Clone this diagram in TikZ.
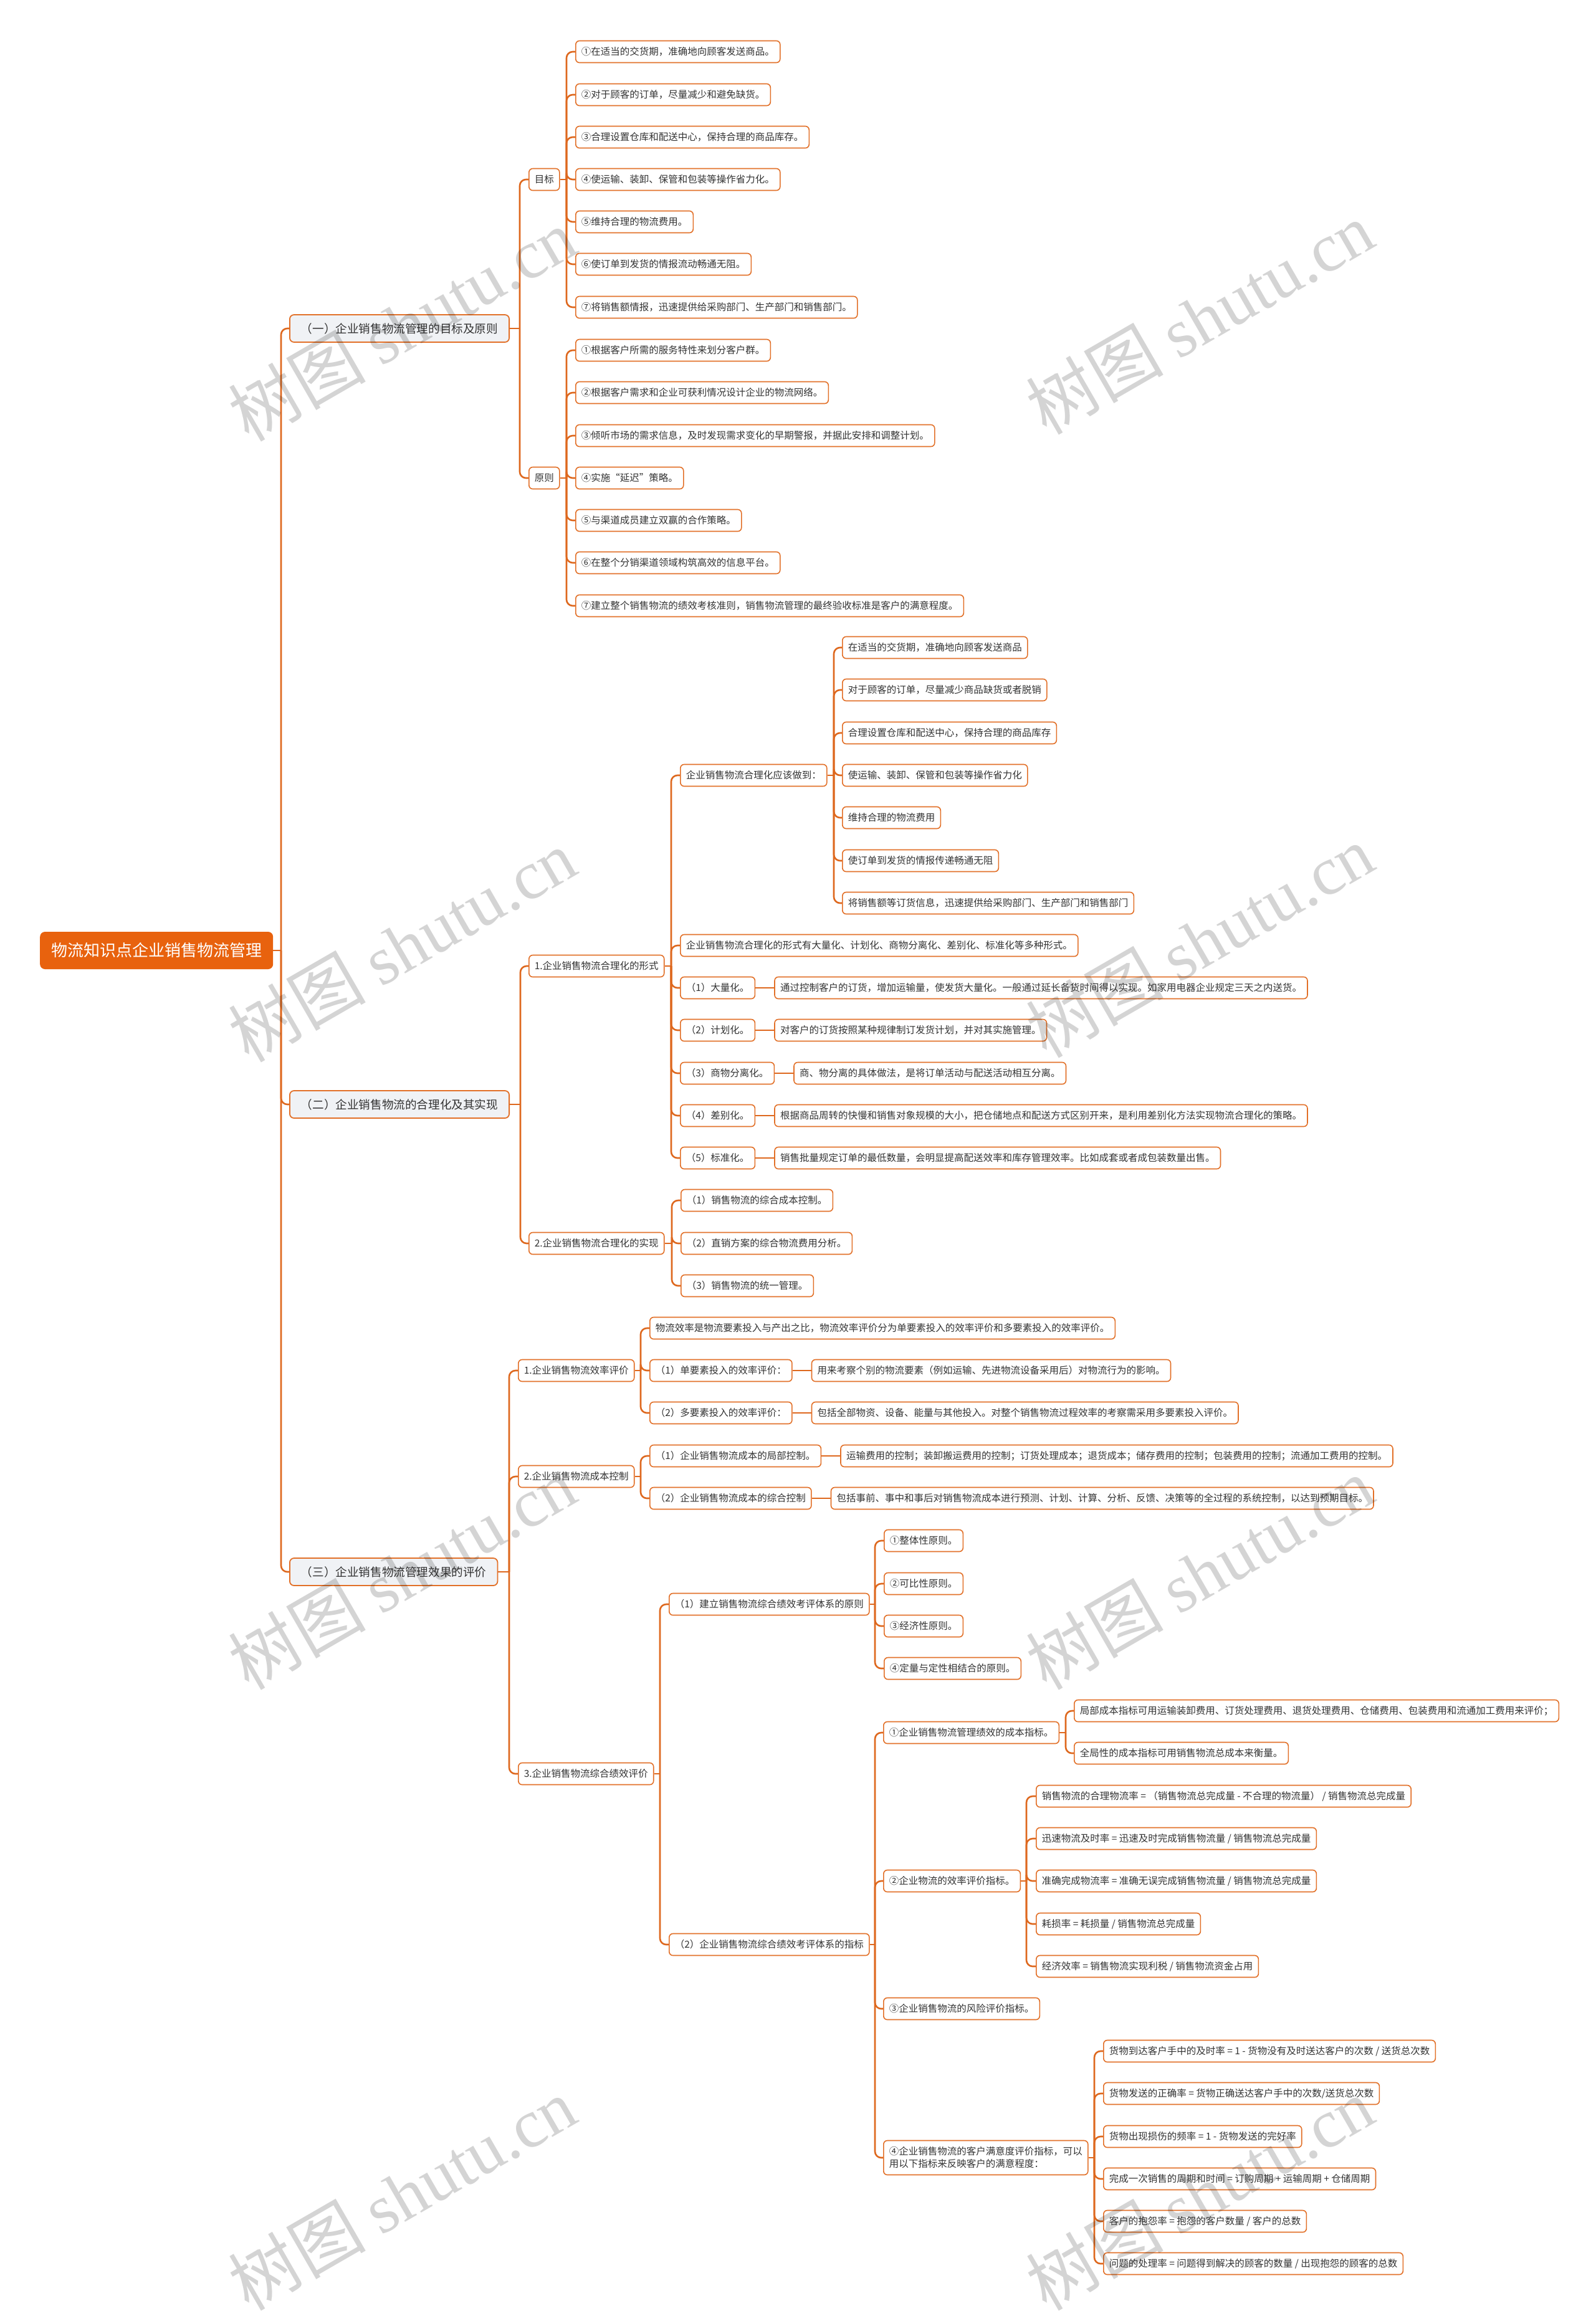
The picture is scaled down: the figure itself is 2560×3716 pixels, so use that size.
\documentclass[tikz,border=0pt]{standalone}
\usepackage{fontspec}
\setmainfont{Noto Sans CJK SC}
\newfontfamily\wmlat{Liberation Serif}
\usetikzlibrary{calc}
\definecolor{lc}{RGB}{222,104,30}
\definecolor{bc}{RGB}{226,112,40}
\definecolor{rootc}{RGB}{232,98,14}
\definecolor{lonefill}{RGB}{240,242,245}
\definecolor{tx}{RGB}{51,51,51}
\newcommand\FSa{\fontsize{15.5pt}{20pt}\selectfont}
\newcommand\FSb{\fontsize{18.6pt}{22pt}\selectfont}
\newcommand\FSc{\fontsize{26pt}{30pt}\selectfont}
\newcommand\WMf{\fontsize{110pt}{120pt}\selectfont}
\tikzset{
  leaf/.style={draw=bc, line width=1.6pt, fill=white, rounded corners=6pt, inner xsep=9pt, inner ysep=0pt, minimum height=35pt, font=\FSa, text=tx, anchor=west},
  levone/.style={draw=bc, line width=1.8pt, fill=lonefill, rounded corners=7pt, inner xsep=18pt, inner ysep=0pt, minimum height=44pt, font=\FSb, text=tx, anchor=west},
  rootn/.style={fill=rootc, rounded corners=8pt, inner xsep=18pt, inner ysep=0pt, minimum height=60pt, font=\FSc, text=white, anchor=west},
  conn/.style={draw=lc, line width=2.6pt},
  wmark/.style={rotate=30, text=black, text opacity=0.17, font=\WMf}
}
\newcommand\branch[3]{%
  \coordinate (bx) at (#2,0);
  \draw[conn] (#1.east) -- (#1.east -| bx);
  \foreach \c in {#3}{\draw[conn,rounded corners=10pt] (#1.east -| bx) |- (\c.west);}
}
\newcommand\pairc[2]{\draw[conn] (#1.east) -- (#2.west);}
\begin{document}
\begin{tikzpicture}[x=1pt,y=-1pt]
\useasboundingbox (0,0) rectangle (2560,3716);
\fill[white] (0,0) rectangle (2560,3716);

% root and level one
\node[rootn] (R) at (64,1525) {物流知识点企业销售物流管理};
\node[levone] (A) at (464,527) {（一）企业销售物流管理的目标及原则};
\node[levone] (B) at (464,1772) {（二）企业销售物流的合理化及其实现};
\node[levone] (C) at (464,2522) {（三）企业销售物流管理效果的评价};

% section A
\node[leaf] (A1) at (848,288) {目标};
\node[leaf] (A2) at (848,767) {原则};
\node[leaf] (a1) at (923,83) {①在适当的交货期，准确地向顾客发送商品。};
\node[leaf] (a2) at (923,152) {②对于顾客的订单，尽量减少和避免缺货。};
\node[leaf] (a3) at (923,220) {③合理设置仓库和配送中心，保持合理的商品库存。};
\node[leaf] (a4) at (923,288) {④使运输、装卸、保管和包装等操作省力化。};
\node[leaf] (a5) at (923,356) {⑤维持合理的物流费用。};
\node[leaf] (a6) at (923,424) {⑥使订单到发货的情报流动畅通无阻。};
\node[leaf] (a7) at (923,493) {⑦将销售额情报，迅速提供给采购部门、生产部门和销售部门。};
\node[leaf] (b1) at (923,562) {①根据客户所需的服务特性来划分客户群。};
\node[leaf] (b2) at (923,630) {②根据客户需求和企业可获利情况设计企业的物流网络。};
\node[leaf] (b3) at (923,699) {③倾听市场的需求信息，及时发现需求变化的早期警报，并据此安排和调整计划。};
\node[leaf] (b4) at (923,767) {④实施“延迟”策略。};
\node[leaf] (b5) at (923,835) {⑤与渠道成员建立双赢的合作策略。};
\node[leaf] (b6) at (923,903) {⑥在整个分销渠道领域构筑高效的信息平台。};
\node[leaf] (b7) at (923,972) {⑦建立整个销售物流的绩效考核准则，销售物流管理的最终验收标准是客户的满意程度。};

% section B
\node[leaf] (B1) at (848,1550) {1.企业销售物流合理化的形式};
\node[leaf] (B2) at (848,1995) {2.企业销售物流合理化的实现};
\node[leaf] (B11) at (1091,1244) {企业销售物流合理化应该做到：};
\node[leaf] (c1) at (1351,1039) {在适当的交货期，准确地向顾客发送商品};
\node[leaf] (c2) at (1351,1107) {对于顾客的订单，尽量减少商品缺货或者脱销};
\node[leaf] (c3) at (1351,1176) {合理设置仓库和配送中心，保持合理的商品库存};
\node[leaf] (c4) at (1351,1244) {使运输、装卸、保管和包装等操作省力化};
\node[leaf] (c5) at (1351,1312) {维持合理的物流费用};
\node[leaf] (c6) at (1351,1381) {使订单到发货的情报传递畅通无阻};
\node[leaf] (c7) at (1351,1449) {将销售额等订货信息，迅速提供给采购部门、生产部门和销售部门};
\node[leaf] (B12) at (1091,1517) {企业销售物流合理化的形式有大量化、计划化、商物分离化、差别化、标准化等多种形式。};
\node[leaf] (B13) at (1091,1585) {（1）大量化。};
\node[leaf] (B14) at (1091,1653) {（2）计划化。};
\node[leaf] (B15) at (1091,1722) {（3）商物分离化。};
\node[leaf] (B16) at (1091,1790) {（4）差别化。};
\node[leaf] (B17) at (1091,1858) {（5）标准化。};
\node[leaf] (B13c) at ($(B13.east)+(30,0)$) {通过控制客户的订货，增加运输量，使发货大量化。一般通过延长备货时间得以实现。如家用电器企业规定三天之内送货。};
\node[leaf] (B14c) at ($(B14.east)+(30,0)$) {对客户的订货按照某种规律制订发货计划，并对其实施管理。};
\node[leaf] (B15c) at ($(B15.east)+(30,0)$) {商、物分离的具体做法，是将订单活动与配送活动相互分离。};
\node[leaf] (B16c) at ($(B16.east)+(30,0)$) {根据商品周转的快慢和销售对象规模的大小，把仓储地点和配送方式区别开来，是利用差别化方法实现物流合理化的策略。};
\node[leaf] (B17c) at ($(B17.east)+(30,0)$) {销售批量规定订单的最低数量，会明显提高配送效率和库存管理效率。比如成套或者成包装数量出售。};
\node[leaf] (d1) at (1092,1926) {（1）销售物流的综合成本控制。};
\node[leaf] (d2) at (1092,1995) {（2）直销方案的综合物流费用分析。};
\node[leaf] (d3) at (1092,2063) {（3）销售物流的统一管理。};

% section C
\node[leaf] (C1) at (831,2199) {1.企业销售物流效率评价};
\node[leaf] (C2) at (831,2369) {2.企业销售物流成本控制};
\node[leaf] (C3) at (831,2846) {3.企业销售物流综合绩效评价};
\node[leaf] (C11) at (1042,2131) {物流效率是物流要素投入与产出之比，物流效率评价分为单要素投入的效率评价和多要素投入的效率评价。};
\node[leaf] (C12) at (1042,2199) {（1）单要素投入的效率评价：};
\node[leaf] (C13) at (1042,2267) {（2）多要素投入的效率评价：};
\node[leaf] (C12c) at ($(C12.east)+(30,0)$) {用来考察个别的物流要素（例如运输、先进物流设备采用后）对物流行为的影响。};
\node[leaf] (C13c) at ($(C13.east)+(30,0)$) {包括全部物资、设备、能量与其他投入。对整个销售物流过程效率的考察需采用多要素投入评价。};
\node[leaf] (C21) at (1042,2336) {（1）企业销售物流成本的局部控制。};
\node[leaf] (C22) at (1042,2404) {（2）企业销售物流成本的综合控制};
\node[leaf] (C21c) at ($(C21.east)+(30,0)$) {运输费用的控制；装卸搬运费用的控制；订货处理成本；退货成本；储存费用的控制；包装费用的控制；流通加工费用的控制。};
\node[leaf] (C22c) at ($(C22.east)+(30,0)$) {包括事前、事中和事后对销售物流成本进行预测、计划、计算、分析、反馈、决策等的全过程的系统控制，以达到预期目标。};
\node[leaf] (C31) at (1073,2574) {（1）建立销售物流综合绩效考评体系的原则};
\node[leaf] (C32) at (1073,3120) {（2）企业销售物流综合绩效考评体系的指标};
\node[leaf] (e1) at (1418,2472) {①整体性原则。};
\node[leaf] (e2) at (1418,2541) {②可比性原则。};
\node[leaf] (e3) at (1418,2609) {③经济性原则。};
\node[leaf] (e4) at (1418,2677) {④定量与定性相结合的原则。};
\node[leaf] (D1) at (1417,2780) {①企业销售物流管理绩效的成本指标。};
\node[leaf] (D2) at (1417,3018) {②企业物流的效率评价指标。};
\node[leaf] (D3) at (1417,3223) {③企业销售物流的风险评价指标。};
\node[leaf, align=left, minimum height=55pt] (D4) at (1417,3462) {④企业销售物流的客户满意度评价指标，可以\\用以下指标来反映客户的满意程度：};
\node[leaf] (f1) at (1723,2745) {局部成本指标可用运输装卸费用、订货处理费用、退货处理费用、仓储费用、包装费用和流通加工费用来评价；};
\node[leaf] (f2) at (1723,2813) {全局性的成本指标可用销售物流总成本来衡量。};
\node[leaf] (g1) at (1662,2882) {销售物流的合理物流率 = （销售物流总完成量 - 不合理的物流量） / 销售物流总完成量};
\node[leaf] (g2) at (1662,2950) {迅速物流及时率 = 迅速及时完成销售物流量 / 销售物流总完成量};
\node[leaf] (g3) at (1662,3018) {准确完成物流率 = 准确无误完成销售物流量 / 销售物流总完成量};
\node[leaf] (g4) at (1662,3087) {耗损率 = 耗损量 / 销售物流总完成量};
\node[leaf] (g5) at (1662,3155) {经济效率 = 销售物流实现利税 / 销售物流资金占用};
\node[leaf] (h1) at (1770,3291) {货物到达客户手中的及时率 = 1 - 货物没有及时送达客户的次数 / 送货总次数};
\node[leaf] (h2) at (1770,3359) {货物发送的正确率 = 货物正确送达客户手中的次数/送货总次数};
\node[leaf] (h3) at (1770,3428) {货物出现损伤的频率 = 1 - 货物发送的完好率};
\node[leaf] (h4) at (1770,3496) {完成一次销售的周期和时间 = 订购周期 + 运输周期 + 仓储周期};
\node[leaf] (h5) at (1770,3564) {客户的抱怨率 = 抱怨的客户数量 / 客户的总数};
\node[leaf] (h6) at (1770,3632) {问题的处理率 = 问题得到解决的顾客的数量 / 出现抱怨的顾客的总数};

% connectors
\branch{R}{451}{A,B,C}
\branch{A}{834}{A1,A2}
\branch{A1}{909}{a1,a2,a3,a4,a5,a6,a7}
\branch{A2}{909}{b1,b2,b3,b4,b5,b6,b7}
\branch{B}{835}{B1,B2}
\branch{B1}{1077}{B11,B12,B13,B14,B15,B16,B17}
\branch{B11}{1338}{c1,c2,c3,c4,c5,c6,c7}
\branch{B2}{1078}{d1,d2,d3}
\pairc{B13}{B13c}
\pairc{B14}{B14c}
\pairc{B15}{B15c}
\pairc{B16}{B16c}
\pairc{B17}{B17c}
\branch{C}{817}{C1,C2,C3}
\branch{C1}{1028}{C11,C12,C13}
\branch{C2}{1028}{C21,C22}
\pairc{C12}{C12c}
\pairc{C13}{C13c}
\pairc{C21}{C21c}
\pairc{C22}{C22c}
\branch{C3}{1059}{C31,C32}
\branch{C31}{1404}{e1,e2,e3,e4}
\branch{C32}{1404}{D1,D2,D3,D4}
\branch{D1}{1710}{f1,f2}
\branch{D2}{1647}{g1,g2,g3,g4,g5}
\branch{D4}{1756}{h1,h2,h3,h4,h5,h6}

% watermarks
\node[wmark] (w1) at (645,521) {树图 {\wmlat shutu.cn}};
\node[wmark] (w2) at (1925,510) {树图 {\wmlat shutu.cn}};
\node[wmark] (w3) at (645,1517) {树图 {\wmlat shutu.cn}};
\node[wmark] (w4) at (1925,1510) {树图 {\wmlat shutu.cn}};
\node[wmark] (w5) at (645,2524) {树图 {\wmlat shutu.cn}};
\node[wmark] (w6) at (1925,2524) {树图 {\wmlat shutu.cn}};
\node[wmark] (w7) at (645,3520) {树图 {\wmlat shutu.cn}};
\node[wmark] (w8) at (1925,3520) {树图 {\wmlat shutu.cn}};
\end{tikzpicture}
\end{document}
